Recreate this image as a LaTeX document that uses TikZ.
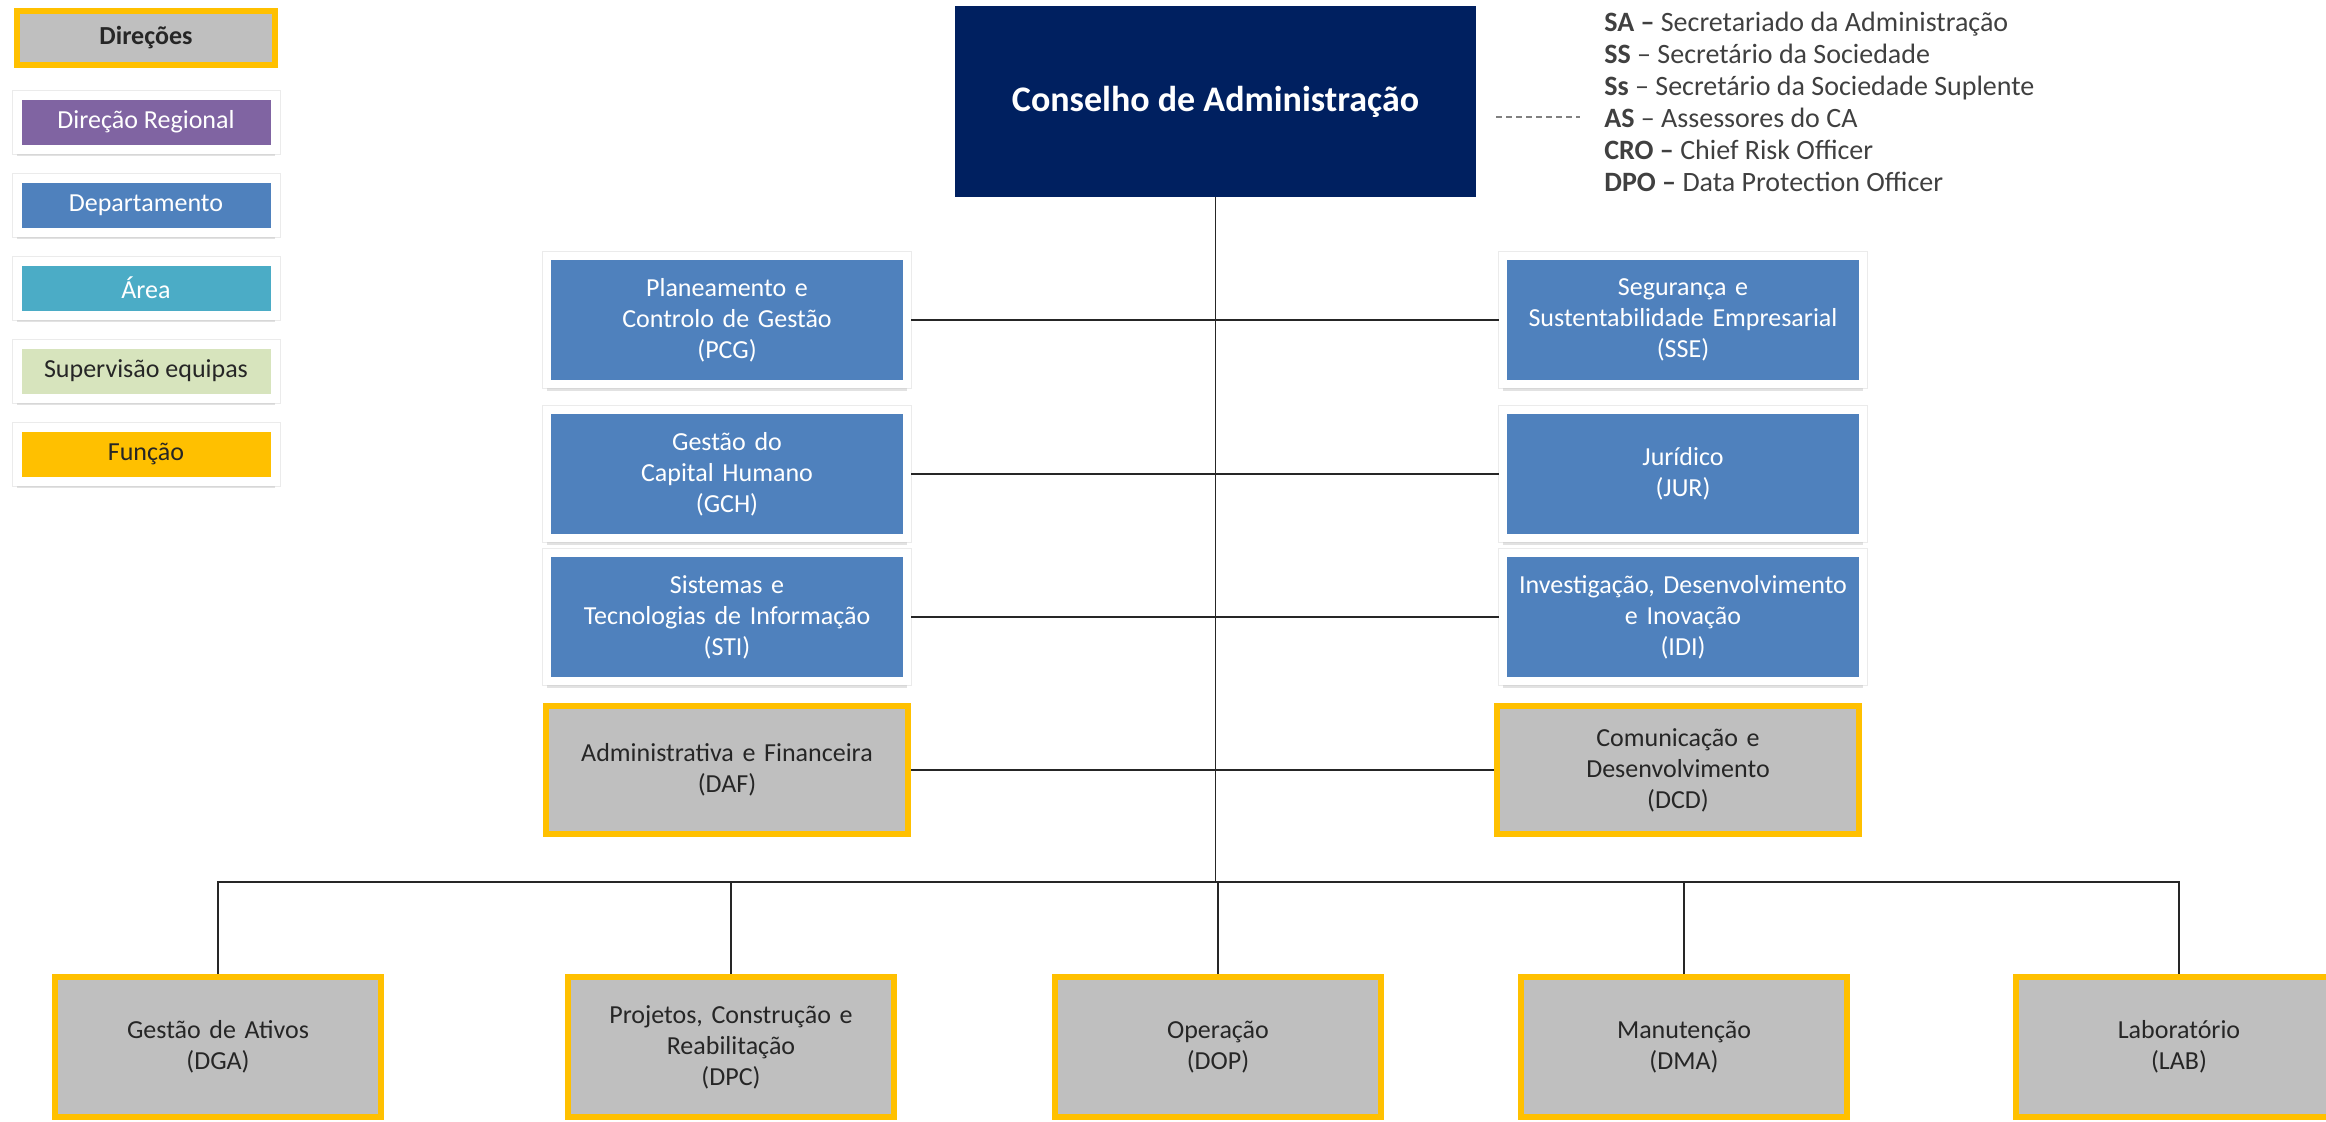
\documentclass[tikz,border=0pt]{standalone}
\usepackage{fontspec}
\setmainfont{Carlito}
\usetikzlibrary{positioning,shadows}
\definecolor{navy}{HTML}{002060}
\definecolor{deptblue}{HTML}{4F81BD}
\definecolor{regpurple}{HTML}{8064A2}
\definecolor{areateal}{HTML}{4BACC6}
\definecolor{supgreen}{HTML}{D7E4BD}
\definecolor{gold}{HTML}{FFC000}
\definecolor{boxgray}{HTML}{BFBFBF}
\tikzset{line/.style={draw, line width=0.75pt, black!85}}

\begin{document}
\begin{tikzpicture}[x=0.5pt, y=-0.5pt, node distance=10pt]
\tikzstyle{dept} = [rectangle, fill=deptblue, draw=white, line width=4pt, minimum width=180pt, minimum height=64pt, inner sep=0pt, text width=176pt, align=center, text=white, font=\fontsize{13}{15.5}\selectfont, preaction={draw=black!8, line width=5pt}, drop shadow={shadow xshift=0pt, shadow yshift=-3.5pt, fill=black!25, opacity=0.45}]
\tikzstyle{direcao} = [rectangle, fill=boxgray, draw=gold, line width=3pt, minimum width=181pt, minimum height=64pt, inner sep=0pt, text width=176pt, align=center, text=black!85, font=\fontsize{13}{15.5}\selectfont]
\tikzstyle{unit} = [direcao, minimum width=163pt, minimum height=70pt, text width=160pt]
\tikzstyle{keybox} = [rectangle, draw=white, line width=4.5pt, minimum width=129pt, minimum height=27pt, inner sep=0pt, text=white, font=\fontsize{13}{15.5}\selectfont, preaction={draw=black!8, line width=5.5pt}, drop shadow={shadow xshift=0pt, shadow yshift=-3.5pt, fill=black!25, opacity=0.45}]
\tikzstyle{board} = [rectangle, fill=navy, minimum width=260.5pt, minimum height=95.5pt, inner sep=0pt, text=white, font=\fontsize{18}{21}\selectfont\bfseries]

\path [use as bounding box, clip] (0,0) rectangle (2326,1121);

% legenda
\node [direcao, minimum width=129pt, minimum height=27pt, text width=125pt, font=\fontsize{13}{15.5}\selectfont\bfseries] (kdir) at (146,38) {Direções};
\node [keybox, fill=regpurple, below=11.25pt of kdir] (kreg) {Direção Regional};
\node [keybox, fill=deptblue, below=of kreg] (kdep) {Departamento};
\node [keybox, fill=areateal, below=of kdep] (karea) {Área};
\node [keybox, fill=supgreen, text=black!85, below=of karea] (ksup) {Supervisão equipas};
\node [keybox, fill=gold, text=black!85, below=of ksup] (kfun) {Função};

\node [board] (cons) at (1215.5,101.5) {Conselho de Administração};
\node [anchor=west, inner sep=0pt, align=left, text=black!75, font=\fontsize{14}{16}\selectfont] (abbr) at (1604,101.5) {\textbf{SA –} Secretariado da Administração\\\textbf{SS} – Secretário da Sociedade\\\textbf{Ss} – Secretário da Sociedade Suplente\\\textbf{AS} – Assessores do CA\\\textbf{CRO –} Chief Risk Officer\\\textbf{DPO –} Data Protection Officer};
\coordinate (dsh1) at (1496,117);
\coordinate (dsh2) at (1580,117);

% staff
\node [dept] (pcg) at (727,320) {Planeamento e\\Controlo de Gestão\\(PCG)};
\node [dept, below=9pt of pcg] (gch) {Gestão do\\Capital Humano\\(GCH)};
\node [dept, below=3.5pt of gch] (sti) {Sistemas e\\Tecnologias de Informação\\(STI)};
\node [direcao, below=9pt of sti] (daf) {Administrativa e Financeira\\(DAF)};
\node [dept, right=294pt of pcg] (sse) {Segurança e\\Sustentabilidade Empresarial\\(SSE)};
\node [dept, right=294pt of gch] (jur) {Jurídico\\(JUR)};
\node [dept, right=294pt of sti] (idi) {Investigação, Desenvolvimento\\e Inovação\\(IDI)};
\node [direcao, right=291.5pt of daf] (dcd) {Comunicação e\\Desenvolvimento\\(DCD)};

% direcoes operacionais
\node [unit] (dga) at (218,1047) {Gestão de Ativos\\(DGA)};
\node [unit, right=90.5pt of dga] (dpc) {Projetos, Construção e\\Reabilitação\\(DPC)};
\node [unit, right=77.5pt of dpc] (dop) {Operação\\(DOP)};
\node [unit, right=67pt of dop] (dma) {Manutenção\\(DMA)};
\node [unit, right=81.5pt of dma] (lab) {Laboratório\\(LAB)};
\coordinate (bus) at (1215.5,882);

\path [line] (cons) -- (bus);
\path [line] (pcg) -- (sse);
\path [line] (gch) -- (jur);
\path [line] (sti) -- (idi);
\path [line] (daf) -- (dcd);
\path [line] (dga.north) |- (bus) -| (lab.north);
\path [line] (dpc.north) -- (dpc.north |- bus);
\path [line] (dop.north) -- (dop.north |- bus);
\path [line] (dma.north) -- (dma.north |- bus);
\path [line, draw=black!50, line width=0.6pt, dash pattern=on 3pt off 2pt] (dsh1) -- (dsh2);

\end{tikzpicture}
\end{document}
